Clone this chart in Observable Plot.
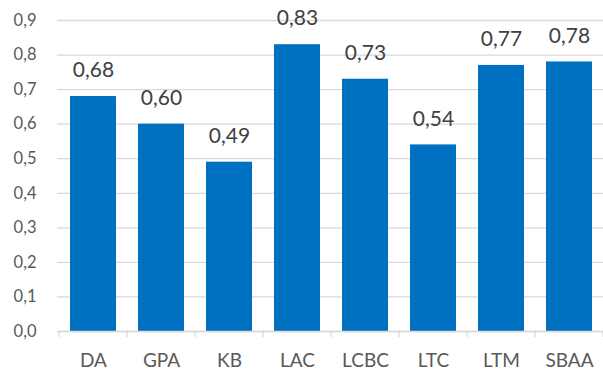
<!DOCTYPE html>
<html><head><meta charset="utf-8">
<script src="https://cdn.jsdelivr.net/npm/d3@7"></script>
<script src="https://cdn.jsdelivr.net/npm/@observablehq/plot@0.6"></script>
<style>html,body{margin:0;padding:0;overflow:hidden;background:#fff;font-family:Lato,"Open Sans",sans-serif;}svg{display:block;}</style>
</head><body><div id="chart"></div>
<script>
const categories = ["DA","GPA","KB","LAC","LCBC","LTC","LTM","SBAA"];
const values = [0.68,0.60,0.49,0.83,0.73,0.54,0.77,0.78];
const yTicks = [0,0.1,0.2,0.3,0.4,0.5,0.6,0.7,0.8,0.9];
const data = categories.map((c,i)=>({cat:c, v:values[i]}));
const comma = (f)=> d => d3.format(f)(d).replace(".", ",");

const chart = Plot.plot({
  width: 603, height: 374,
  marginLeft: 57, marginRight: 0, marginTop: 20, marginBottom: 43,
  style: {fontFamily: "Lato, 'Open Sans', sans-serif", fontSize: "16px", color: "#595959", background: "#fff"},
  x: {domain: categories, range: [57, 605], paddingInner: 0.33, paddingOuter: 0.165, label: null},
  y: {domain: [0, 0.9], ticks: yTicks, label: null},
  marks: [
    Plot.gridY(yTicks, {stroke: "#d9d9d9", strokeOpacity: 1, strokeWidth: 1.3}),
    Plot.barY(data, {x: "cat", y: "v", fill: "#0070c0"}),
    Plot.ruleY([0], {stroke: "#d9d9d9", strokeWidth: 1.3}),
    (index, scales, values, dims) => {
      const x = scales.x;
      const off = (x.step() - x.bandwidth()) / 2;
      const y0 = dims.height - dims.marginBottom;
      const g = d3.create("svg:g").attr("stroke", "#d9d9d9").attr("stroke-width", 1.3);
      const xs = categories.map(c => x(c) - off);
      xs.push(x(categories[categories.length-1]) + x.bandwidth() + off);
      for (const px of xs) g.append("line").attr("x1", px).attr("x2", px).attr("y1", y0).attr("y2", y0 + 6);
      return g.node();
    },
    Plot.text(data, {x: "cat", y: "v", text: d => comma(".2f")(d.v), dy: -26, fontSize: 21, fill: "#404040"}),
    Plot.axisX({tickSize: 0, tickPadding: 22, fontSize: 19, fill: "#595959"}),
    Plot.axisY({ticks: yTicks, tickFormat: comma(".1f"), tickSize: 0, tickPadding: 21, fontSize: 16.5, fill: "#595959"})
  ]
});
document.getElementById("chart").appendChild(chart);
</script></body></html>
